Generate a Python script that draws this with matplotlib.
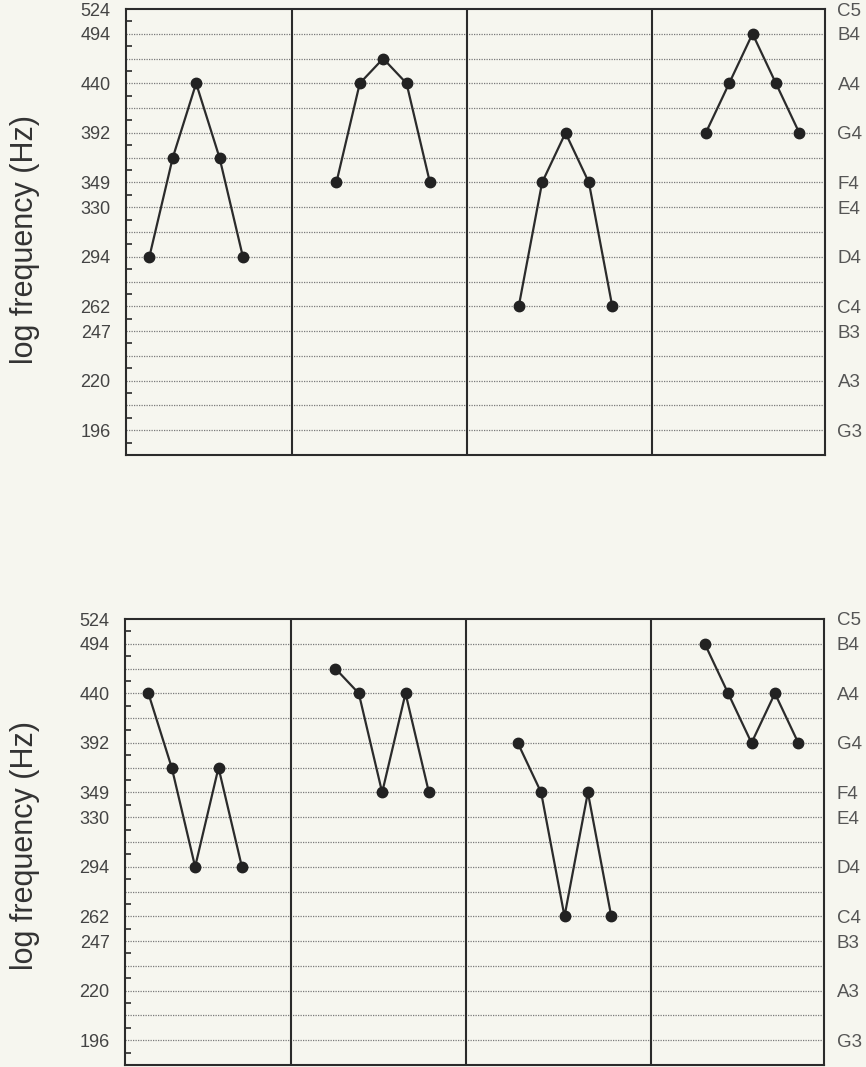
import numpy as np
import matplotlib
matplotlib.use("Agg")
import matplotlib.pyplot as plt

plt.rcParams['font.family'] = ['Liberation Sans', 'DejaVu Sans']

# ---- data ----
# Note frequencies (Hz) of the five-note melodies in each of four sections
top_melodies = [
    [293.66, 369.99, 440.00, 369.99, 293.66],
    [349.23, 440.00, 466.16, 440.00, 349.23],
    [261.63, 349.23, 392.00, 349.23, 261.63],
    [392.00, 440.00, 493.88, 440.00, 392.00],
]
bottom_melodies = [
    [440.00, 369.99, 293.66, 369.99, 293.66],
    [466.16, 440.00, 349.23, 440.00, 349.23],
    [392.00, 349.23, 261.63, 349.23, 261.63],
    [493.88, 440.00, 392.00, 440.00, 392.00],
]
# onset (time units) of the first note in each section
section_onsets = [1.0, 9.0, 16.8, 24.8]
section_dividers = [7.1, 14.6, 22.5]

tick_freqs = [196.00, 220.00, 246.94, 261.63, 293.66, 329.63, 349.23, 392.00, 440.00, 493.88, 523.25]
tick_labels = ['196', '220', '247', '262', '294', '330', '349', '392', '440', '494', '524']
note_names = ['G3', 'A3', 'B3', 'C4', 'D4', 'E4', 'F4', 'G4', 'A4', 'B4', 'C5']

# semitone grid G3..B4 and quarter-tone-offset tick marks
grid_freqs = [196.00 * 2 ** (k / 12) for k in range(17)]
minor_freqs = [196.00 * 2 ** ((k + 0.5) / 12) for k in range(-1, 17)]

ylim = (185.0, 523.25)
xlim = (0.0, 29.9)

bg = '#f6f6ef'
ink = '#2b2b2b'

fig = plt.figure(figsize=(8.66, 10.67), dpi=100, facecolor=bg)

W, H = 866, 1067
def axrect(x0, y0, x1, y1):
    return [x0 / W, 1 - y1 / H, (x1 - x0) / W, (y1 - y0) / H]

panels = [
    (axrect(126, 9, 825, 455), top_melodies, 240),
    (axrect(125, 619, 824, 1065), bottom_melodies, 845),
]

for rect, melodies, label_y in panels:
    ax = fig.add_axes(rect)
    ax.set_facecolor(bg)
    ax.set_yscale('log')
    ax.set_ylim(*ylim)
    ax.set_xlim(*xlim)

    for f in grid_freqs:
        ax.axhline(f, color='#7a7a7a', lw=0.9, ls=(0, (1, 1)), zorder=1)
    for d in section_dividers:
        ax.axvline(d, color=ink, lw=1.5, zorder=2)

    for onset, mel in zip(section_onsets, melodies):
        xs = onset + np.arange(len(mel))
        ax.plot(xs, mel, color=ink, lw=1.6, marker='o', ms=7.5,
                mfc='#222222', mec='#222222', zorder=3)

    ax.set_yticks(tick_freqs)
    ax.set_yticklabels(tick_labels)
    ax.set_yticks(minor_freqs, minor=True)
    ax.yaxis.set_minor_formatter(plt.NullFormatter())
    ax.tick_params(axis='y', which='major', length=0, pad=11,
                   labelsize=13, labelcolor='#444444')
    ax.tick_params(axis='y', which='minor', direction='in', length=4,
                   width=1.2, color=ink)
    ax.set_xticks([])
    for sp in ax.spines.values():
        sp.set_color(ink)
        sp.set_linewidth(1.5)

    ax2 = ax.twinx()
    ax2.set_yscale('log')
    ax2.set_ylim(*ylim)
    ax2.set_yticks(tick_freqs)
    ax2.set_yticklabels(note_names)
    ax2.yaxis.set_minor_locator(plt.NullLocator())
    ax2.tick_params(axis='y', which='major', length=0, pad=9,
                    labelsize=13.5, labelcolor='#555555')
    for sp in ax2.spines.values():
        sp.set_visible(False)

    fig.text(25 / W, 1 - label_y / H, 'log frequency (Hz)', rotation=90,
             ha='center', va='center', fontsize=22, color='#333333')

fig.savefig('out.png', dpi=100, facecolor=bg)
